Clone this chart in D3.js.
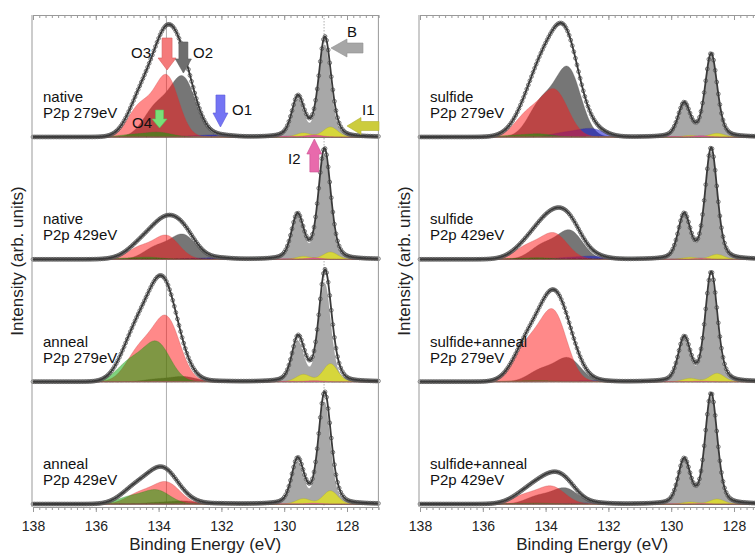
<!DOCTYPE html>
<html><head><meta charset="utf-8">
<script src="https://cdn.jsdelivr.net/npm/d3@7"></script>
<style>body{margin:0;background:#fff} svg{display:block} text{font-family:Arial,"Liberation Sans",sans-serif}</style>
</head><body><svg id="c" width="755" height="554"></svg>
<script>
// ---------- data ----------
const sampleLabels = ["native","native","anneal","anneal","sulfide","sulfide","sulfide+anneal","sulfide+anneal"];
const photonLabels = ["P2p 279eV","P2p 429eV","P2p 279eV","P2p 429eV","P2p 279eV","P2p 429eV","P2p 279eV","P2p 429eV"];
const panelColumn = [0,0,0,0,1,1,1,1];
const panelRow    = [0,1,2,3,0,1,2,3];
const xTickValues = [138,136,134,132,130,128];
const xDomain = [138,127];
const refLines = [133.75, 128.73];

// fit components: position (eV), height (arb.), FWHM (eV) for the 8 panels
const B_pos  = [128.71,128.72,128.71,128.72,128.73,128.73,128.73,128.73];
const B_amp  = [91.5,104.5,97.5,101.5,80,107,103,106.5];
const B_fwhm = [0.45,0.45,0.45,0.45,0.45,0.45,0.45,0.45];
const I1_pos  = [128.53,128.53,128.53,128.53,128.54,128.54,128.54,128.54];
const I1_amp  = [10,7.3,18,13.3,3.7,5,8.4,5];
const I1_fwhm = [0.55,0.55,0.55,0.55,0.55,0.55,0.55,0.55];
const I2_pos  = [129.05,129.05,129.05,129.05,129.05,129.05,129.05,129.05];
const I2_amp  = [2,1.5,1,0.8,1.2,1,0.5,0.5];
const I2_fwhm = [0.6,0.6,0.6,0.6,0.6,0.6,0.6,0.6];
const O1_pos  = [132.1,132.15,132.1,132.1,132.55,132.5,132.4,132.4];
const O1_amp  = [2,1.5,0.5,0.5,8,3,1,1];
const O1_fwhm = [1.0,1.0,1.0,1.0,1.0,1.0,1.0,1.0];
const O2_pos  = [133.22,133.21,133.2,133.2,133.28,133.22,133.28,133.37];
const O2_amp  = [58,24,5,3,67,28,23,15.5];
const O2_fwhm = [0.95,0.95,0.95,0.95,0.95,0.95,0.95,0.95];
const O3_pos  = [133.74,133.74,133.74,133.74,133.7,133.72,133.75,133.8];
const O3_amp  = [60,23,62,21,45,25,68,17];
const O3_fwhm = [0.9,0.95,1.0,1.0,1.0,1.0,1.0,1.0];
const O4_pos  = [134.0,134.3,134.05,134.06,134.2,134.2,134.2,134.2];
const O4_amp  = [4.5,2,38,13.5,3,1.5,1,0.8];
const O4_fwhm = [1.0,1.0,1.0,1.0,1.0,1.0,1.0,1.0];
const spinOrbitSplit = 0.86;
const branchRatio = {B:0.4, I1:0.4, I2:0.4, O1:0.5, O2:0.5, O3:0.5, O4:0.5};
const lorentzMix  = {B:0.3, I1:0.1, I2:0.1, O1:0, O2:0, O3:0, O4:0};

// annotation arrows in the first panel: [label, eV, intensity, direction]
const arrowLabels = ["O3","O2","O1","O4","B","I1","I2"];
const arrowEV     = [133.73,133.21,132.03,133.97,128.51,128.0,129.04];
const arrowInt    = [67,64,10,9,89,11,-2];
const arrowDir    = ["down","down","down","down","left","left","up"];

// ---------- drawing ----------
const comps = {
  B:{pos:B_pos,amp:B_amp,w:B_fwhm}, I1:{pos:I1_pos,amp:I1_amp,w:I1_fwhm}, I2:{pos:I2_pos,amp:I2_amp,w:I2_fwhm},
  O1:{pos:O1_pos,amp:O1_amp,w:O1_fwhm}, O2:{pos:O2_pos,amp:O2_amp,w:O2_fwhm},
  O3:{pos:O3_pos,amp:O3_amp,w:O3_fwhm}, O4:{pos:O4_pos,amp:O4_amp,w:O4_fwhm}
};
const drawOrder = ["O2","O1","O3","O4","B","I1","I2"];
const fillOf = {O2:"#767676",O1:"rgba(20,20,210,0.55)",O3:"rgba(255,20,20,0.5)",O4:"rgba(0,165,0,0.5)",
  B:"#a8a8a8",I1:"rgba(222,222,40,0.85)",I2:"rgba(228,70,165,0.8)"};
const strokeOf = {O2:"#555",O1:"#3030a0",O3:"#c04040",O4:"#3c7c20",B:"#888",I1:"#a0a020",I2:"#b04080"};

function pv(e,p,a,w,m){const t=(e-p)/w;return a*((1-m)*Math.exp(-4*Math.LN2*t*t)+m/(1+4*t*t));}
function compVal(name,i,e){
  const c=comps[name], m=lorentzMix[name];
  return pv(e,c.pos[i],c.amp[i],c.w[i],m)+pv(e,c.pos[i]+spinOrbitSplit,c.amp[i]*branchRatio[name],c.w[i],m);
}
const fineE = d3.range(12700,13801).map(d=>d/100);
const dataE = d3.range(2540,2761).map(d=>d/20);

const svg = d3.select("#c");
const colX0 = [33,420];
const pxPerEV = 31.4;
const xs = colX0.map(x0=>d3.scaleLinear().domain(xDomain).range([x0, x0+11*pxPerEV]));
const topY = 15, botY = 507;
const rowBase = r => 137 + r*122.35;

// reference lines (left column)
{
  const x=xs[0];
  refLines.forEach(v=>{
    svg.append("line").attr("x1",x(v)).attr("x2",x(v)).attr("y1",topY).attr("y2",botY)
      .attr("stroke","#9a9a9a").attr("stroke-width",0.8).attr("stroke-dasharray",v<130?"1.5,1.5":null);
  });
}

const panelsG = svg.append("g");
for(let i=0;i<8;i++){
  const x=xs[panelColumn[i]];
  const base=rowBase(panelRow[i]);
  const y=d3.scaleLinear().domain([0,100]).range([base,base-100]);
  const g=panelsG.append("g");
  drawOrder.forEach(name=>{
    const area=d3.area().x(e=>x(e)).y0(y(0)).y1(e=>y(compVal(name,i,e)));
    g.append("path").datum(fineE).attr("d",area).attr("fill",fillOf[name])
      .attr("stroke",strokeOf[name]).attr("stroke-width",0.5).attr("stroke-opacity",0.6);
  });
  const total=e=>drawOrder.reduce((s,n)=>s+compVal(n,i,e),0);
  g.selectAll("circle").data(dataE).join("circle")
    .attr("cx",e=>x(e)).attr("cy",e=>y(total(e))).attr("r",1.9)
    .attr("fill","none").attr("stroke","#555").attr("stroke-width",0.8);
  g.append("path").datum(fineE).attr("d",d3.line().x(e=>x(e)).y(e=>y(total(e))))
    .attr("fill","none").attr("stroke","#3a3a3a").attr("stroke-width",1.8);
  const tx = x.range()[0]+10;
  g.append("text").attr("x",tx).attr("y",base-35).attr("font-size",15).attr("fill","#111").text(sampleLabels[i]);
  g.append("text").attr("x",tx).attr("y",base-19).attr("font-size",15).attr("fill","#111").text(photonLabels[i]);
}

// axes
[0,1].forEach(ci=>{
  const x=xs[ci];
  const g=svg.append("g");
  const x0=x.range()[0]-1, x1=x(127);
  g.append("line").attr("x1",x0).attr("x2",x0).attr("y1",topY).attr("y2",botY).attr("stroke","#999");
  g.append("line").attr("x1",x1).attr("x2",x1).attr("y1",topY).attr("y2",botY).attr("stroke","#999");
  const minor=d3.range(0,56).map(k=>127+k*0.2).filter(v=>v<=138.001);
  [topY,botY].forEach((yy,k)=>{
    const ax=g.append("g").attr("transform",`translate(0,${yy})`)
      .call(d3.axisBottom(x).tickValues(minor).tickSize(3).tickFormat(""));
    ax.select(".domain").attr("stroke","#999");
    ax.selectAll(".tick line").attr("stroke","#999");
    const ax2=g.append("g").attr("transform",`translate(0,${yy})`)
      .call(d3.axisBottom(x).tickValues(xTickValues).tickSize(5).tickPadding(9).tickFormat(k===1?d3.format("d"):""));
    ax2.select(".domain").remove();
    ax2.selectAll(".tick line").attr("stroke","#999");
    ax2.selectAll("text").attr("font-size",14).attr("fill","#222").attr("font-family","Arial, Liberation Sans, sans-serif");
  });
  g.append("text").attr("x",(x0+x1)/2).attr("y",549.5).attr("text-anchor","middle").attr("font-size",17).attr("fill","#222")
    .text("Binding Energy (eV)");
  const yt = ci===0?23:410;
  g.append("text").attr("transform",`translate(${yt},261) rotate(-90)`).attr("text-anchor","middle")
    .attr("font-size",17).attr("fill","#222").text("Intensity (arb. units)");
});

// annotation arrows (panel 1)
const arrowFill = {O3:"#f47a7a",O2:"#6e6e6e",O1:"#7474f4",O4:"#78e078",B:"#a6a6a6",I1:"#cccc3c",I2:"#e86aac"};
const arrowStroke = {O3:"#d85c5c",O2:"#5a5a5a",O1:"#5a5ad8",O4:"#5cc05c",B:"#909090",I1:"#b0b030",I2:"#c85090"};
const arrowSize = {O3:[32,18,10,12],O2:[31,16,9,14],O1:[32,15,9,14],O4:[18,15,8,9],B:[32,18,10,16],I1:[32,17,9,14],I2:[33,15,9,15]};
const xA=xs[0], yA=d3.scaleLinear().domain([0,100]).range([rowBase(0),rowBase(0)-100]);
arrowLabels.forEach((lab,k)=>{
  const tx=xA(arrowEV[k]), ty=yA(arrowInt[k]);
  const [len,hw,sw,hl]=arrowSize[lab];
  let pts=[[0,0],[-hw/2,-hl],[-sw/2,-hl],[-sw/2,-len],[sw/2,-len],[sw/2,-hl],[hw/2,-hl]];
  const rot={down:0,left:90,up:180}[arrowDir[k]];
  svg.append("polygon").attr("points",pts.map(p=>p.join(",")).join(" "))
    .attr("transform",`translate(${tx},${ty}) rotate(${rot})`)
    .attr("fill",arrowFill[lab]).attr("stroke",arrowStroke[lab]).attr("stroke-width",0.6);
});
const labelPos = {O3:[151,57.5,"end"],O2:[193,57.5,"start"],O1:[232,115,"start"],O4:[152,128,"end"],B:[347,37,"start"],I1:[362,115,"start"],I2:[288,164,"start"]};
arrowLabels.forEach(lab=>{
  const [lx,ly,anc]=labelPos[lab];
  svg.append("text").attr("x",lx).attr("y",ly).attr("text-anchor",anc).attr("font-size",15).attr("fill","#111").text(lab);
});
</script></body></html>
